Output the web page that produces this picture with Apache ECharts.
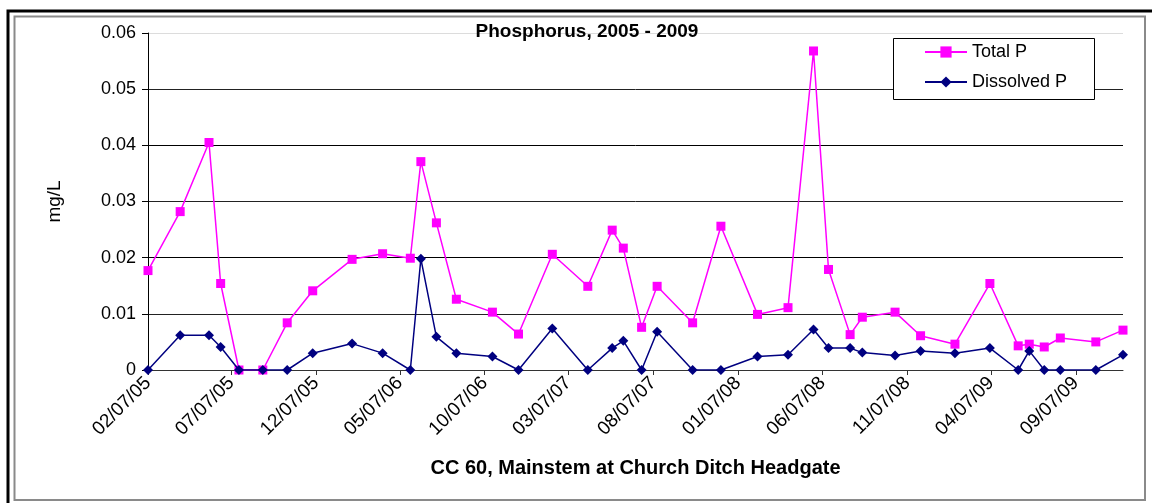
<!DOCTYPE html>
<html>
<head>
<meta charset="utf-8">
<title>Phosphorus, 2005 - 2009</title>
<script src="https://cdn.jsdelivr.net/npm/echarts@6/dist/echarts.min.js"></script>
<style>
  html, body { margin: 0; padding: 0; background: #fff; }
  #main { width: 1152px; height: 503px; }
</style>
</head>
<body>
<div id="main"></div>
<script>
// sample dates (yyyy-mm-dd)
var sampleDates = [
  '2005-02-07', '2005-04-06', '2005-05-28', '2005-06-18', '2005-07-21', '2005-09-02', '2005-10-16', '2005-12-01',
  '2006-02-10', '2006-04-06', '2006-05-26', '2006-06-14', '2006-07-12', '2006-08-17', '2006-10-21', '2006-12-07',
  '2007-02-06', '2007-04-11', '2007-05-25', '2007-06-14', '2007-07-17', '2007-08-14', '2007-10-17', '2007-12-07',
  '2008-02-11', '2008-04-06', '2008-05-22', '2008-06-18', '2008-07-27', '2008-08-18', '2008-10-16', '2008-12-01',
  '2009-02-01', '2009-04-05', '2009-05-26', '2009-06-15', '2009-07-12', '2009-08-10', '2009-10-13', '2009-12-01'
];
// mg/L
var totalP = [
  0.0177, 0.0282, 0.0405, 0.0154, 0, 0, 0.0084, 0.0141,
  0.0197, 0.0207, 0.0199, 0.0371, 0.0262, 0.0126, 0.0103, 0.0064,
  0.0206, 0.0149, 0.0249, 0.0217, 0.0076, 0.0149, 0.0084, 0.0256,
  0.0099, 0.0111, 0.0568, 0.0179, 0.0063, 0.0094, 0.0103, 0.0061,
  0.0046, 0.0154, 0.0043, 0.0046, 0.0041, 0.0057, 0.0050, 0.0071
];
var dissolvedP = [
  0, 0.0062, 0.0062, 0.0041, 0, 0, 0, 0.0030,
  0.0047, 0.0030, 0, 0.0198, 0.0059, 0.0030, 0.0024, 0,
  0.0074, 0, 0.0039, 0.0052, 0, 0.0068, 0, 0,
  0.0024, 0.0027, 0.0072, 0.0039, 0.0039, 0.0031, 0.0026, 0.0034,
  0.0030, 0.0039, 0, 0.0034, 0, 0, 0, 0.0027
];
var tickLabels = ['02/07/05', '07/07/05', '12/07/05', '05/07/06', '10/07/06', '03/07/07',
                  '08/07/07', '01/07/08', '06/07/08', '11/07/08', '04/07/09', '09/07/09'];
var seriesNames = ['Total P', 'Dissolved P'];

var FONT = 'Arial, "Liberation Sans", sans-serif';
var DAY = 86400000;
var t0 = Date.parse(sampleDates[0]);

// day offset from first sample
function dayOf(iso) { return Math.round((Date.parse(iso) - t0) / DAY); }
// mm/dd/yy -> yyyy-mm-dd
function labelToIso(s) {
  var p = s.split('/');
  return '20' + p[2] + '-' + p[0] + '-' + p[1];
}

var tickDays = tickLabels.map(function (l) { return dayOf(labelToIso(l)); });
var xDays = sampleDates.map(dayOf);

function pairs(vals) {
  return vals.map(function (v, i) { return [xDays[i], v]; });
}

var myChart = echarts.init(document.getElementById('main'), null, { renderer: 'canvas' });

var option = {
  backgroundColor: '#fff',
  animation: false,
  textStyle: { fontFamily: FONT },
  grid: { left: 148, right: 29, top: 33, bottom: 133, containLabel: false, outerBoundsMode: 'none' },
  legend: {
    data: seriesNames,
    orient: 'vertical',
    left: 924,
    top: 43,
    padding: 0,
    itemWidth: 42,
    itemHeight: 14,
    itemGap: 12,
    textStyle: { fontFamily: FONT, fontSize: 18, color: '#000', lineHeight: 18 },
    z: 5
  },
  xAxis: {
    type: 'value',
    min: 0,
    max: xDays[xDays.length - 1],
    name: 'CC 60, Mainstem at Church Ditch Headgate',
    nameLocation: 'middle',
    nameGap: 88,
    nameTextStyle: { fontFamily: FONT, fontSize: 20, fontWeight: 'bold', color: '#000' },
    axisLine: { show: true, lineStyle: { color: '#333', width: 1 } },
    axisTick: { show: true, inside: false, length: 5, customValues: tickDays, lineStyle: { color: '#333' } },
    axisLabel: {
      customValues: tickDays,
      rotate: 45,
      margin: 10,
      fontFamily: FONT,
      fontSize: 19,
      color: '#000',
      formatter: function (v) {
        var i = tickDays.indexOf(Math.round(v));
        return i >= 0 ? tickLabels[i] : '';
      }
    },
    splitLine: { show: false }
  },
  yAxis: {
    type: 'value',
    min: 0,
    max: 0.06,
    interval: 0.01,
    name: 'mg/L',
    nameLocation: 'middle',
    nameRotate: 90,
    nameGap: 84,
    nameTextStyle: { fontFamily: FONT, fontSize: 19, color: '#000' },
    axisLine: { show: true, lineStyle: { color: '#000', width: 1 } },
    axisTick: { show: true, inside: false, length: 6, lineStyle: { color: '#000' } },
    axisLabel: { margin: 12, fontFamily: FONT, fontSize: 18, color: '#000' },
    splitLine: {
      show: true,
      lineStyle: { color: ['#000', '#222', '#000', '#222', '#000', '#222', '#dcdcdc'], width: 1 }
    }
  },
  graphic: [
    // outer black frame (runs off the right/bottom edge)
    { type: 'rect', z: -10, silent: true,
      shape: { x: 8, y: 11, width: 1160, height: 520 },
      style: { fill: 'none', stroke: '#000', lineWidth: 3 } },
    // inner gray chart-area border
    { type: 'rect', z: -10, silent: true,
      shape: { x: 14.5, y: 16.5, width: 1130.5, height: 483.5 },
      style: { fill: 'none', stroke: '#8a8a8a', lineWidth: 2 } },
    // legend box
    { type: 'rect', z: 3, silent: true,
      shape: { x: 893.5, y: 38.5, width: 201, height: 61 },
      style: { fill: '#fff', stroke: '#000', lineWidth: 1 } },
    // chart title
    { type: 'text', z: 5, silent: true, x: 587, y: 32,
      style: { text: 'Phosphorus, 2005 - 2009', font: 'bold 19px ' + FONT, fill: '#000',
               textAlign: 'center', textVerticalAlign: 'middle' } }
  ],
  series: [
    {
      name: 'Total P',
      type: 'line',
      data: pairs(totalP),
      symbol: 'rect',
      symbolSize: 9,
      showAllSymbol: true,
      lineStyle: { color: '#ff00ff', width: 1.5 },
      itemStyle: { color: '#ff00ff' },
      z: 2
    },
    {
      name: 'Dissolved P',
      type: 'line',
      data: pairs(dissolvedP),
      symbol: 'diamond',
      symbolSize: 10,
      showAllSymbol: true,
      lineStyle: { color: '#000080', width: 1.5 },
      itemStyle: { color: '#000080' },
      z: 3
    }
  ]
};

myChart.setOption(option);
</script>
</body>
</html>
